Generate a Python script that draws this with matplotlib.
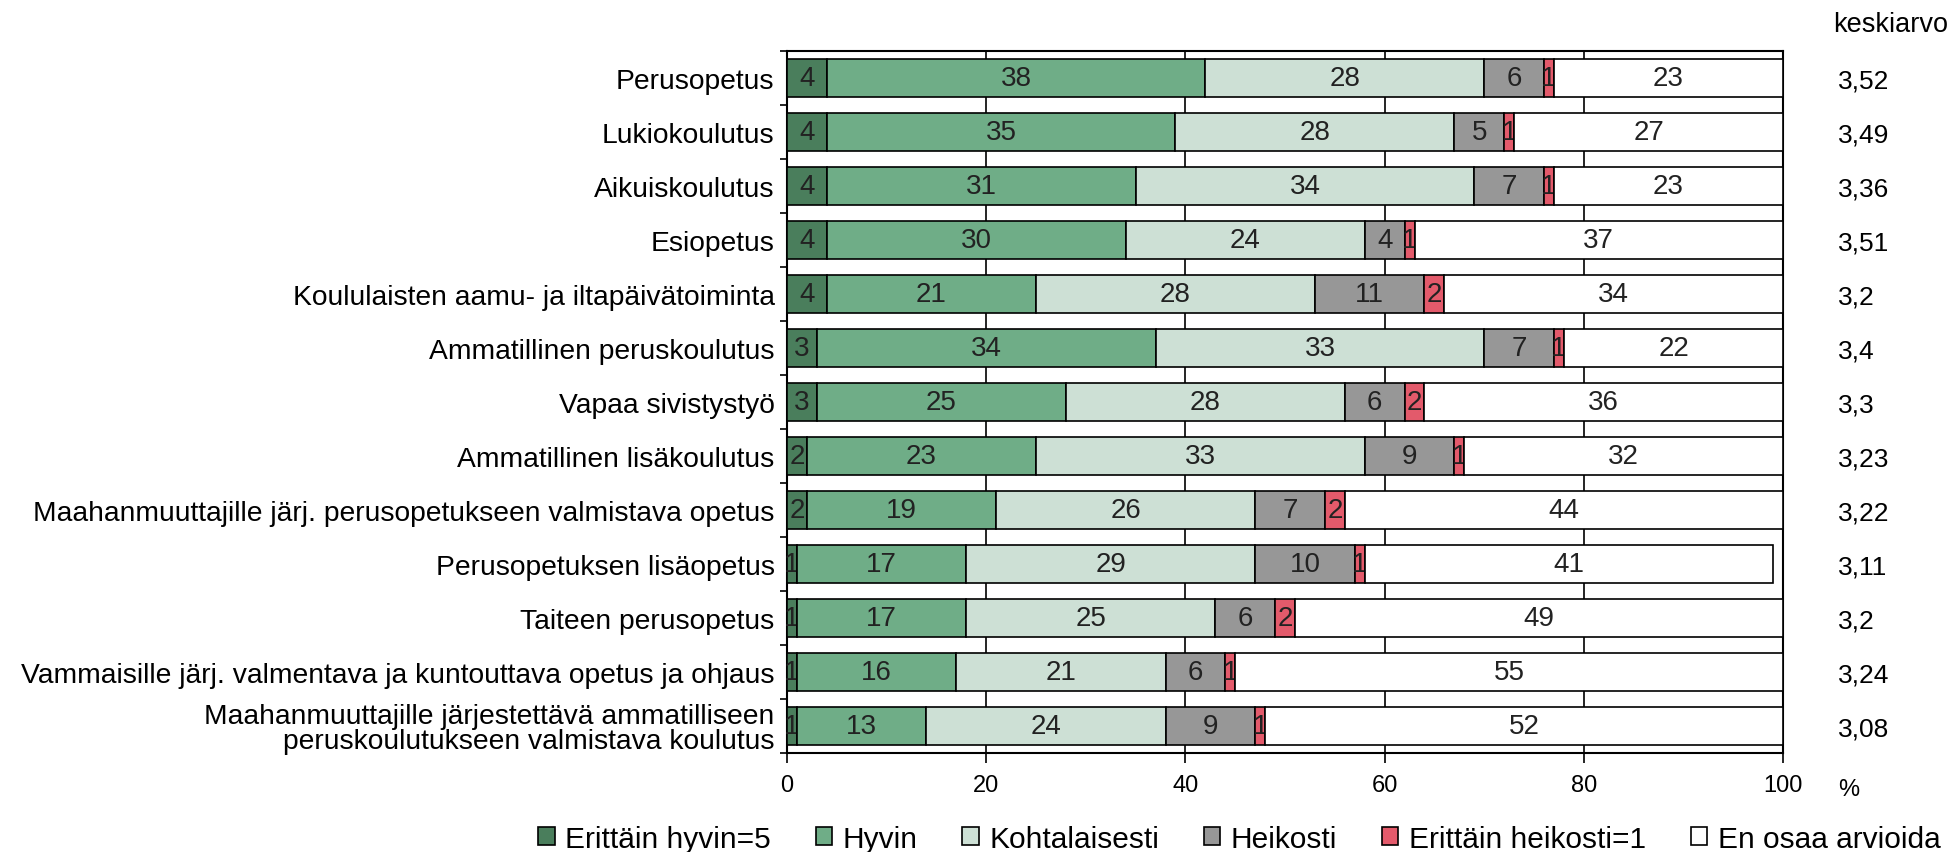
import numpy as np
import matplotlib.pyplot as plt
from matplotlib.patches import Patch

plt.rcParams['font.family'] = ['Liberation Sans', 'DejaVu Sans']

# data (%)
categories = [
    'Perusopetus',
    'Lukiokoulutus',
    'Aikuiskoulutus',
    'Esiopetus',
    'Koululaisten aamu- ja iltapäivätoiminta',
    'Ammatillinen peruskoulutus',
    'Vapaa sivistystyö',
    'Ammatillinen lisäkoulutus',
    'Maahanmuuttajille järj. perusopetukseen valmistava opetus',
    'Perusopetuksen lisäopetus',
    'Taiteen perusopetus',
    'Vammaisille järj. valmentava ja kuntouttava opetus ja ohjaus',
    'Maahanmuuttajille järjestettävä ammatilliseen\nperuskoulutukseen valmistava koulutus',
]
erittain_hyvin = [4, 4, 4, 4, 4, 3, 3, 2, 2, 1, 1, 1, 1]
hyvin = [38, 35, 31, 30, 21, 34, 25, 23, 19, 17, 17, 16, 13]
kohtalaisesti = [28, 28, 34, 24, 28, 33, 28, 33, 26, 29, 25, 21, 24]
heikosti = [6, 5, 7, 4, 11, 7, 6, 9, 7, 10, 6, 6, 9]
erittain_heikosti = [1, 1, 1, 1, 2, 1, 2, 1, 2, 1, 2, 1, 1]
en_osaa = [23, 27, 23, 37, 34, 22, 36, 32, 44, 41, 49, 55, 52]
keskiarvo = ['3,52', '3,49', '3,36', '3,51', '3,2', '3,4', '3,3', '3,23',
             '3,22', '3,11', '3,2', '3,24', '3,08']

series = [erittain_hyvin, hyvin, kohtalaisesti, heikosti, erittain_heikosti, en_osaa]
series_names = ['Erittäin hyvin=5', 'Hyvin', 'Kohtalaisesti', 'Heikosti',
                'Erittäin heikosti=1', 'En osaa arvioida']
colors = ['#4a7e5c', '#6fad87', '#cde0d5', '#979797', '#e35a6b', '#ffffff']

fig = plt.figure(figsize=(19.5, 8.53), dpi=100)
ax = fig.add_axes([0.4036, 0.116, 0.5108, 0.823])

y = np.arange(len(categories))
left = np.zeros(len(categories))
for vals, col in zip(series, colors):
    vals = np.array(vals, dtype=float)
    bars = ax.barh(y, vals, left=left, height=0.7, color=col,
                   edgecolor='black', linewidth=1.2, zorder=3)
    ax.bar_label(bars, labels=[str(int(v)) for v in vals], label_type='center',
                 fontsize=20, color='#222222')
    left += vals

ax.set_xlim(0, 100)
ax.set_ylim(len(categories) - 0.5, -0.5)
ax.set_xticks([0, 20, 40, 60, 80, 100])
ax.tick_params(axis='x', direction='out', length=7, width=1.2, labelsize=17,
               pad=8, colors='black')
ax.set_yticks(y)
ax.set_yticklabels(categories, fontsize=20.3, linespacing=0.95)
ax.tick_params(axis='y', which='major', length=0, pad=9)
ax.set_yticks(np.arange(len(categories) + 1) - 0.5, minor=True)
ax.tick_params(axis='y', which='minor', direction='out', length=5, width=1.2)
ax.xaxis.grid(True, color='black', linewidth=1.2, zorder=0)
ax.set_axisbelow(True)
for sp in ax.spines.values():
    sp.set_linewidth(1.5)
    sp.set_color('black')

# mean column on the right
fig.text(1833 / 1950, 1 - 25 / 853, 'keskiarvo', fontsize=19.5, va='center', ha='left')
for yi, m in zip(y, keskiarvo):
    ax.text(1.055, yi + 0.05, m, transform=ax.get_yaxis_transform(), fontsize=19,
            va='center', ha='left')
fig.text(1838 / 1950, 1 - 790 / 853, '%', fontsize=17, va='center', ha='left')

handles = [Patch(facecolor=c, edgecolor='black', linewidth=1.2) for c in colors]
fig.legend(handles, series_names, loc='center right', ncol=6,
           bbox_to_anchor=(0.995, 1 - 840 / 853), frameon=False, fontsize=21.5,
           handlelength=0.55, handleheight=0.55, handletextpad=0.35,
           columnspacing=1.5, borderaxespad=0, borderpad=0)

fig.savefig('out.png', dpi=100)
